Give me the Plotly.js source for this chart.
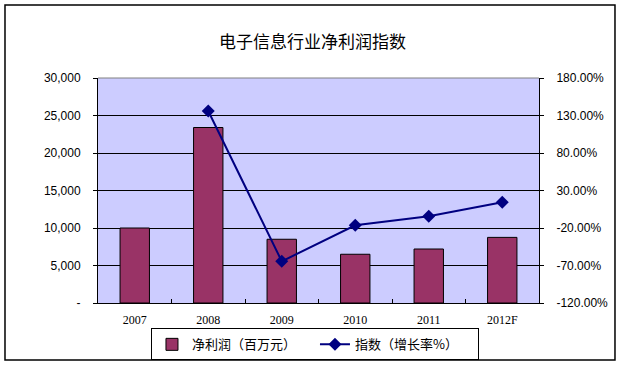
<!DOCTYPE html>
<html>
<head>
<meta charset="utf-8">
<script src="https://cdn.plot.ly/plotly-3.0.1.min.js"></script>
<style>html,body{margin:0;padding:0;background:#fff;}#chart{width:625px;height:365px;}</style>
</head>
<body>
<div id="chart"></div>
<script>
var years = ["2007", "2008", "2009", "2010", "2011", "2012F"];
var profit = [10000, 23400, 8500, 6500, 7200, 8750];
var indexYears = ["2008", "2009", "2010", "2011", "2012F"];
var indexPct = [136, -64.4, -16.4, -4.4, 14.2];
var leftTicks = [0, 5000, 10000, 15000, 20000, 25000, 30000];
var leftTickText = ["-", "5,000", "10,000", "15,000", "20,000", "25,000", "30,000"];
var rightTicks = [-120, -70, -20, 30, 80, 130, 180];
var rightTickText = ["-120.00%", "-70.00%", "-20.00%", "30.00%", "80.00%", "130.00%", "180.00%"];

var cjk = "'Noto Sans CJK SC', 'DejaVu Sans', sans-serif";

var traces = [
  {
    type: "bar", x: years, y: profit, name: "净利润（百万元）",
    marker: {color: "#993366", line: {color: "#000000", width: 1}},
    width: 0.4, yaxis: "y", hoverinfo: "skip"
  },
  {
    type: "scatter", mode: "lines+markers", x: indexYears, y: indexPct, name: "指数（增长率%）",
    line: {color: "#000080", width: 2},
    marker: {symbol: "diamond", size: 10, color: "#000080"},
    yaxis: "y2", hoverinfo: "skip"
  }
];

var layout = {
  width: 625, height: 365,
  margin: {l: 98, r: 86, t: 78, b: 62, autoexpand: false},
  paper_bgcolor: "#ffffff",
  plot_bgcolor: "#CCCCFF",
  showlegend: true,
  title: {text: "电子信息行业净利润指数", font: {family: cjk, size: 17, color: "#000"}, x: 0.5, xanchor: "center", y: 0.885, yanchor: "middle"},
  bargap: 0.6,
  xaxis: {
    type: "category", categoryorder: "array", categoryarray: years,
    showline: true, linecolor: "#000", linewidth: 1,
    ticks: "inside", tickson: "boundaries", ticklen: 4, tickcolor: "#000",
    showgrid: false, zeroline: false,
    tickfont: {family: "'Liberation Serif', serif", size: 12, color: "#000"},
    ticklabelstandoff: 6
  },
  yaxis: {
    range: [0, 30000], tickvals: leftTicks, ticktext: leftTickText,
    showline: true, linecolor: "#000", linewidth: 1,
    ticks: "outside", ticklen: 4, tickcolor: "#000",
    showgrid: true, gridcolor: "#000", gridwidth: 1, zeroline: false,
    tickfont: {family: "'Liberation Sans', Arial, sans-serif", size: 12, color: "#000"},
    ticklabelstandoff: 10
  },
  yaxis2: {
    range: [-120, 180], tickvals: rightTicks, ticktext: rightTickText,
    overlaying: "y", side: "right",
    showline: true, linecolor: "#000", linewidth: 1,
    ticks: "outside", ticklen: 4, tickcolor: "#000",
    showgrid: false, zeroline: false,
    tickfont: {family: "'Liberation Sans', Arial, sans-serif", size: 12, color: "#000"},
    ticklabelstandoff: 10
  },
  legend: {
    orientation: "h", x: 0.492, y: -0.184, xanchor: "center", yanchor: "middle",
    bgcolor: "#fff", bordercolor: "#000", borderwidth: 1,
    font: {family: cjk, size: 13, color: "#000"},
    entrywidth: 118,
    itemclick: false, itemdoubleclick: false
  },
  shapes: [
    {type: "line", xref: "paper", yref: "paper", x0: 0, x1: 1, y0: 1, y1: 1, line: {color: "#808080", width: 1}},
    {type: "rect", xref: "paper", yref: "paper", x0: -0.2109, x1: 1.1723, y0: -0.2533, y1: 1.3244, line: {color: "#000", width: 1.5}, layer: "above"}
  ]
};

Plotly.newPlot("chart", traces, layout, {staticPlot: true, displayModeBar: false});
</script>
</body>
</html>
